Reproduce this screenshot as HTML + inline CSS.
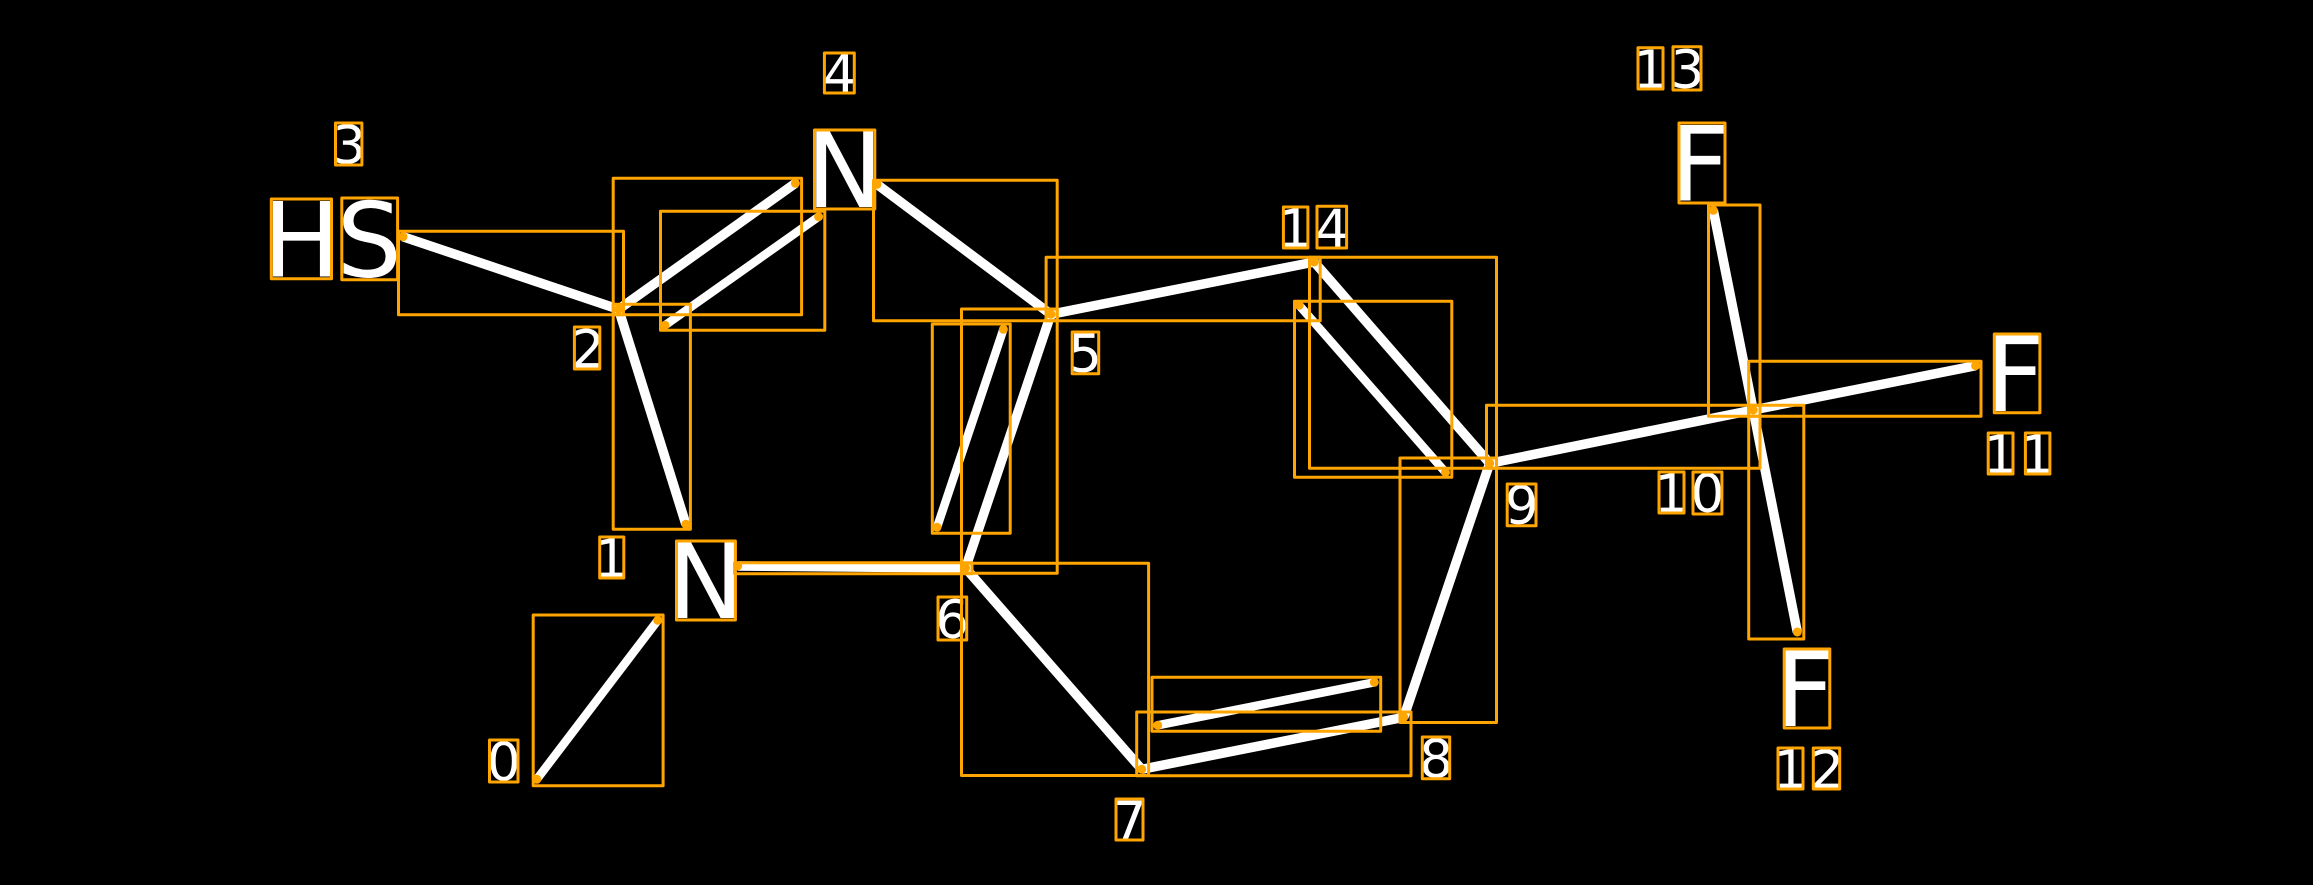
<!DOCTYPE html>
<html><head><meta charset="utf-8"><style>
html,body{margin:0;padding:0;background:#000;width:2313px;height:885px;overflow:hidden}
svg{display:block}
text{font-family:"DejaVu Sans",sans-serif;fill:#fff}
.s{font-size:53px}.b{font-size:103px}
.w{stroke:#fff;stroke-width:9.5;fill:none}
.i{stroke:#fff;stroke-width:8.5;fill:none}
.r rect{fill:none;stroke:#ffa500;stroke-width:3;stroke-linejoin:round}
.d circle{fill:#ffa500}
</style></head><body>
<svg width="2313" height="885" viewBox="0 0 2313 885" xmlns="http://www.w3.org/2000/svg">
<rect width="2313" height="885" fill="#000"/>
<g>
<line class="i" x1="536.8" y1="779.3" x2="657.8" y2="620.3"/>
<line class="w" x1="685.9" y1="524.3" x2="618.6" y2="309.3"/>
<line class="w" x1="403" y1="236.7" x2="618.6" y2="309.3"/>
<line class="w" x1="618.6" y1="309.3" x2="795.4" y2="183.3"/>
<line class="i" x1="665" y1="325.3" x2="818.6" y2="216.7"/>
<line class="w" x1="877" y1="184.3" x2="1050.9" y2="314.3"/>
<line class="w" x1="1050.9" y1="314.3" x2="965.5" y2="568"/>
<line class="i" x1="1003.4" y1="329.3" x2="937" y2="527.3"/>
<line class="w" x1="737.7" y1="566" x2="965.5" y2="568"/>
<line class="w" x1="965.5" y1="568" x2="1141.7" y2="769.3"/>
<line class="w" x1="1141.7" y1="769.3" x2="1403.7" y2="717.3"/>
<line class="i" x1="1157.7" y1="725.3" x2="1374.3" y2="682.3"/>
<line class="w" x1="1403.7" y1="717.3" x2="1489.7" y2="463.3"/>
<line class="w" x1="1489.7" y1="463.3" x2="1314.2" y2="262"/>
<line class="i" x1="1445.5" y1="472.3" x2="1299.2" y2="305.3"/>
<line class="w" x1="1314.2" y1="262" x2="1050.9" y2="314.3"/>
<line class="w" x1="1489.7" y1="463.3" x2="1753.2" y2="410"/>
<line class="w" x1="1753.2" y1="410" x2="1975.6" y2="365.7"/>
<line class="w" x1="1753.2" y1="410" x2="1797.3" y2="632"/>
<line class="w" x1="1753.2" y1="410" x2="1713.3" y2="210.3"/>
</g>
<g>
<text class="b" x="262.7" y="276.4">H</text>
<text class="b" x="336.5" y="276.5">S</text>
<text class="b" x="806.1" y="207">N</text>
<text class="b" x="667.4" y="618">N</text>
<text class="b" x="1670.3" y="200.5">F</text>
<text class="b" x="1985.4" y="410.9">F</text>
<text class="b" x="1775.3" y="726">F</text>
<text class="s" x="486.9" y="780.3">0</text>
<text class="s" x="594.4" y="576.8">1</text>
<text class="s" x="570.95" y="367.3">2</text>
<text class="s" x="332.3" y="163.3">3</text>
<text class="s" x="822.7" y="92.3">4</text>
<text class="s" x="1068.2" y="372.2">5</text>
<text class="s" x="935.3" y="637.8">6</text>
<text class="s" x="1112.9" y="838.8">7</text>
<text class="s" x="1419.2" y="777.3">8</text>
<text class="s" x="1504.9" y="524.2">9</text>
<text class="s" x="1654.2" y="511.8">1</text>
<text class="s" x="1690.6" y="511.8">0</text>
<text class="s" x="1983.3" y="472.8">1</text>
<text class="s" x="2020.3" y="472.8">1</text>
<text class="s" x="1773.2" y="787.8">1</text>
<text class="s" x="1810.35" y="787.8">2</text>
<text class="s" x="1633.2" y="87.8">1</text>
<text class="s" x="1670.6" y="87.8">3</text>
<text class="s" x="1278.3" y="246.8">1</text>
<text class="s" x="1315.1" y="246.8">4</text>
</g>
<g class="r">
<rect x="398.5" y="231.3" width="225" height="83.4"/>
<rect x="613.2" y="178.3" width="188.4" height="136.4"/>
<rect x="660.5" y="211.3" width="164.3" height="119"/>
<rect x="613.2" y="304.3" width="77.2" height="225"/>
<rect x="873.5" y="180.3" width="183.7" height="140.4"/>
<rect x="1046.1" y="257.3" width="274.1" height="63.4"/>
<rect x="1309.5" y="257.3" width="187" height="211"/>
<rect x="1294.5" y="301.3" width="157.3" height="176"/>
<rect x="961.5" y="309" width="95.7" height="264.3"/>
<rect x="932.3" y="324" width="77.9" height="209.3"/>
<rect x="734.6" y="562.7" width="237.4" height="11"/>
<rect x="533.2" y="615" width="129.9" height="170.7"/>
<rect x="961.5" y="563.3" width="187.1" height="212.2"/>
<rect x="1136.7" y="712" width="274.3" height="63.7"/>
<rect x="1152" y="677.3" width="228.7" height="54"/>
<rect x="1400" y="458" width="96.5" height="264.5"/>
<rect x="1486.5" y="405.3" width="273.5" height="63"/>
<rect x="1708.5" y="205" width="51.5" height="211.3"/>
<rect x="1748.7" y="361.3" width="232.3" height="55"/>
<rect x="1748.7" y="405.3" width="55.1" height="233.7"/>
<rect x="271.3" y="199" width="60.2" height="79.7"/>
<rect x="341.8" y="198" width="55.8" height="81.7"/>
<rect x="814.5" y="130" width="60.3" height="79"/>
<rect x="676.5" y="541" width="58.9" height="79"/>
<rect x="1679" y="123" width="46" height="80"/>
<rect x="1994.3" y="334" width="45.6" height="78.7"/>
<rect x="1784.2" y="649" width="45.6" height="79"/>
<rect x="489.5" y="740" width="28.5" height="42"/>
<rect x="599.7" y="537" width="24.1" height="41"/>
<rect x="574.4" y="327" width="25.4" height="42"/>
<rect x="335.5" y="123" width="26.4" height="42"/>
<rect x="824.4" y="53" width="29.9" height="40"/>
<rect x="1072.2" y="332" width="26.5" height="41.7"/>
<rect x="938" y="597" width="28.7" height="43"/>
<rect x="1116" y="799" width="27" height="41"/>
<rect x="1422.3" y="737" width="27.4" height="41.7"/>
<rect x="1507.2" y="484" width="28.8" height="41.7"/>
<rect x="1659" y="472" width="25" height="41"/>
<rect x="1693" y="472" width="28.9" height="42"/>
<rect x="1988.2" y="433" width="24.8" height="41"/>
<rect x="2025.4" y="433" width="24.5" height="41"/>
<rect x="1778" y="748" width="25" height="41"/>
<rect x="1813.3" y="748" width="26.4" height="41"/>
<rect x="1638" y="47.7" width="25" height="41.3"/>
<rect x="1673" y="46.7" width="28" height="43.3"/>
<rect x="1283.4" y="207" width="24.5" height="41"/>
<rect x="1317" y="206.3" width="29.6" height="41.7"/>
</g>
<g class="d">
<circle cx="536.8" cy="779.3" r="4.5"/><circle cx="657.8" cy="620.3" r="4.5"/>
<circle cx="685.9" cy="524.3" r="4.5"/><circle cx="618.6" cy="309.3" r="4.5"/>
<circle cx="403" cy="236.7" r="4.5"/><circle cx="795.4" cy="183.3" r="4.5"/>
<circle cx="665" cy="325.3" r="4.5"/><circle cx="818.6" cy="216.7" r="4.5"/>
<circle cx="877" cy="184.3" r="4.5"/><circle cx="1050.9" cy="314.3" r="4.5"/>
<circle cx="965.5" cy="568" r="4.5"/><circle cx="1003.4" cy="329.3" r="4.5"/>
<circle cx="937" cy="527.3" r="4.5"/><circle cx="737.7" cy="566" r="4.5"/>
<circle cx="1141.7" cy="769.3" r="4.5"/><circle cx="1403.7" cy="717.3" r="4.5"/>
<circle cx="1157.7" cy="725.3" r="4.5"/><circle cx="1374.3" cy="682.3" r="4.5"/>
<circle cx="1489.7" cy="463.3" r="4.5"/><circle cx="1314.2" cy="262" r="4.5"/>
<circle cx="1445.5" cy="472.3" r="4.5"/><circle cx="1299.2" cy="305.3" r="4.5"/>
<circle cx="1753.2" cy="410" r="4.5"/><circle cx="1975.6" cy="365.7" r="4.5"/>
<circle cx="1797.3" cy="632" r="4.5"/><circle cx="1713.3" cy="210.3" r="4.5"/>
</g>
</svg>
</body></html>
